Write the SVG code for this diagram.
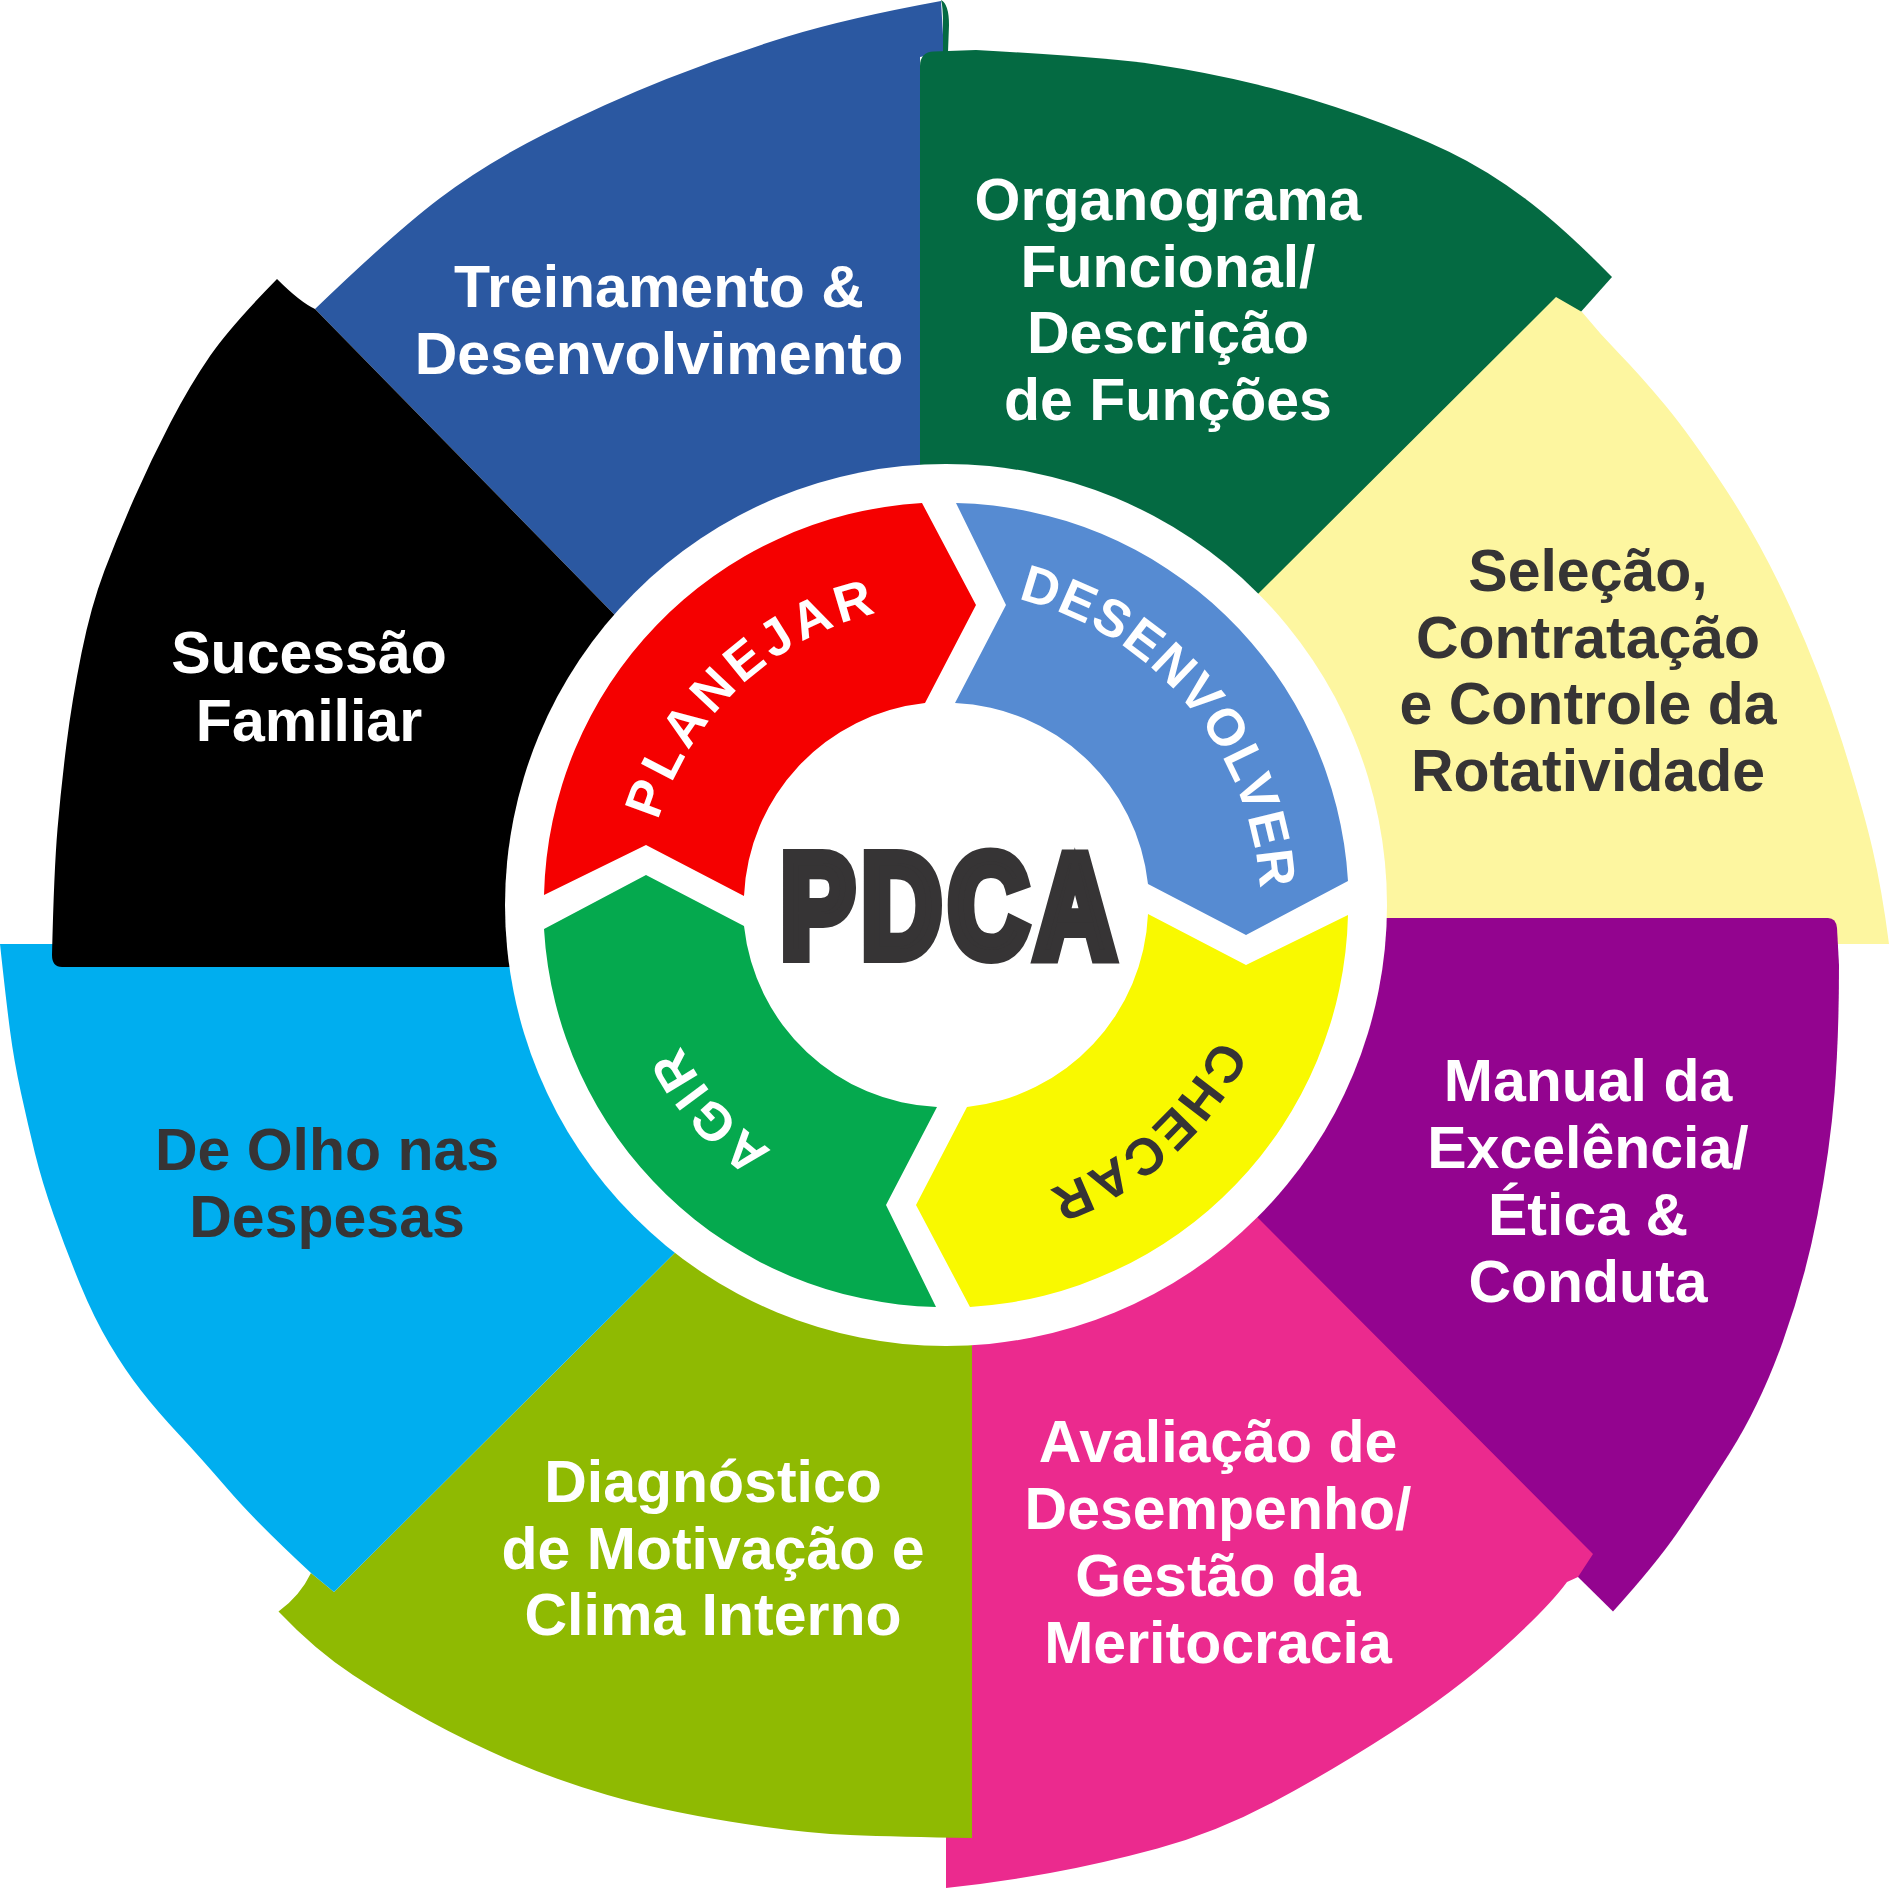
<svg xmlns="http://www.w3.org/2000/svg" width="1891" height="1890" viewBox="0 0 1891 1890">
<style>
.lbl{font-family:'Liberation Sans',Arial,Helvetica,sans-serif;font-weight:bold;font-size:59px;text-anchor:middle}
.w{fill:#ffffff}
.d{fill:#363435}
.ring{font-family:'Liberation Sans',Arial,Helvetica,sans-serif;font-weight:bold;font-size:52px;text-anchor:middle}
</style>
<defs>
<path id="arrowShape" d="M956,503 A402,402 0 0 1 1348,881 L1246,935 L1148,884 A203,203 0 0 0 955,703 L1006,605 Z"/>
<path id="tpPlan" d="M726.9,1110 A300,300 0 0 1 1165.1,700"/>
<path id="tpDes" d="M743.3,661.3 A317,317 0 0 1 1148.7,1148.7"/>
<path id="tpChe" d="M1173,702.8 A304,304 0 0 1 719,1107.2"/>
<path id="tpAgi" d="M1144.4,1134 A303,303 0 0 1 747.6,676"/>
</defs>
<rect width="1891" height="1890" fill="#ffffff"/>

<g id="petal-treinamento">
<path fill="#2B58A1" d="M315,309 Q394,233 439.5,198.5 Q485,164 545.5,133.5 Q606,103 666.5,79 Q727,55 787.5,36.5 Q848,18 941,1 L944,52 L920,57 L920,800 L700,702 Z"/>
<text class="lbl w" x="659" y="307">Treinamento &amp;</text>
<text class="lbl w" x="659" y="374">Desenvolvimento</text>
</g>

<g id="petal-organograma">
<path fill="#046A42" d="M941,0 Q949,4 949,25 L948,52 L943,52 L943,25 Q943,6 941,0 Z"/>
<path fill="#046A42" d="M920,905 L920,66 Q920,52 934,51.5 L976,50 Q1104,57 1155,64.4 Q1206,72 1257,84.4 Q1308,97 1359,115 Q1410,133 1448.5,151.5 Q1487,170 1525,198.5 Q1563,227 1612,277 L1579,314 L946,905 Z"/>
<text class="lbl w" x="1168" y="220">Organograma</text>
<text class="lbl w" x="1168" y="286.5">Funcional/</text>
<text class="lbl w" x="1168" y="353">Descrição</text>
<text class="lbl w" x="1168" y="419.5">de Funções</text>
</g>

<g id="petal-selecao">
<path fill="#FDF6A0" d="M946,905 L1556,297 L1582,312 Q1600,334 1620,354.5 Q1640,375 1665,405 Q1690,435 1725.5,489 Q1761,543 1791,609 Q1821,675 1842,741.5 Q1863,808 1872.5,849 Q1882,890 1889,944 L946,944 Z"/>
<text class="lbl d" x="1588" y="591">Seleção,</text>
<text class="lbl d" x="1588" y="657.5">Contratação</text>
<text class="lbl d" x="1588" y="724">e Controle da</text>
<text class="lbl d" x="1588" y="790.5">Rotatividade</text>
</g>

<g id="petal-manual">
<path fill="#93048F" d="M946,918 L1828,918 Q1836,918 1837,928 L1839,965 Q1839,1037 1834.5,1093.5 Q1830,1150 1817.5,1215 Q1805,1280 1782.5,1342.5 Q1760,1405 1730,1452.5 Q1700,1500 1677.5,1532.5 Q1655,1565 1613,1611.5 L1578,1577 Z"/>
<text class="lbl w" x="1588" y="1101">Manual da</text>
<text class="lbl w" x="1588" y="1168">Excelência/</text>
<text class="lbl w" x="1588" y="1235">Ética &amp;</text>
<text class="lbl w" x="1588" y="1302">Conduta</text>
</g>

<g id="petal-avaliacao">
<path fill="#EB2A8E" d="M946,905 L1593,1554 L1578,1577 L1567,1582 Q1548,1608 1501,1650 Q1454,1692 1392,1732 Q1330,1772 1272.5,1802.5 Q1215,1833 1157.5,1848.5 Q1100,1864 1050,1873 Q1000,1882 946,1888 L946,1834 L972,1834 L972,905 Z"/>
<text class="lbl w" x="1218" y="1462">Avaliação de</text>
<text class="lbl w" x="1218" y="1529">Desempenho/</text>
<text class="lbl w" x="1218" y="1596">Gestão da</text>
<text class="lbl w" x="1218" y="1663">Meritocracia</text>
</g>

<g id="petal-diagnostico">
<path fill="#8FBA02" d="M972,905 L972,1838 Q900,1837 850,1835 Q800,1833 729.5,1821.5 Q659,1810 607.5,1795 Q556,1780 512,1761 Q468,1742 429.5,1721 Q391,1700 353,1675 Q315,1650 278.5,1611.5 Q300,1596 311,1573 L334,1592 L946,983 L946,905 Z"/>
<text class="lbl w" x="713" y="1502">Diagnóstico</text>
<text class="lbl w" x="713" y="1569">de Motivação e</text>
<text class="lbl w" x="713" y="1635">Clima Interno</text>
</g>

<g id="petal-despesas">
<path fill="#00AEEF" d="M0,944 L700,944 L946,983 L334,1592 L311,1573 Q257,1523 228.5,1490 Q200,1457 178.5,1434 Q157,1411 141,1390.5 Q125,1370 109.5,1344 Q94,1318 80,1284 Q66,1250 54,1216 Q42,1182 35,1153.5 Q28,1125 21,1093 Q14,1061 10,1030.5 Q6,1000 0,944 Z"/>
<text class="lbl d" x="327" y="1170">De Olho nas</text>
<text class="lbl d" x="327" y="1237">Despesas</text>
</g>

<g id="petal-sucessao">
<path fill="#000000" d="M277,279 Q300,302 315,309 L700,702 L700,967 L62,967 Q52,967 52,955 Q54,870 57.5,829 Q61,788 66.5,744 Q72,700 81.5,653 Q91,606 104.5,570.5 Q118,535 134.5,497.5 Q151,460 170.5,422.5 Q190,385 210,356 Q230,327 277,279 Z"/>
<text class="lbl w" x="309" y="673">Sucessão</text>
<text class="lbl w" x="309" y="741">Familiar</text>
</g>

<circle id="ring-base" cx="946" cy="905" r="441" fill="#ffffff"/>

<g id="arrow-planejar">
<use href="#arrowShape" fill="#F50000" transform="rotate(270 946 905)"/>
<text class="ring w" letter-spacing="5"><textPath href="#tpPlan" startOffset="50%">PLANEJAR</textPath></text>
</g>
<g id="arrow-desenvolver">
<use href="#arrowShape" fill="#568BD2"/>
<text class="ring w" letter-spacing="1.5"><textPath href="#tpDes" startOffset="50%">DESENVOLVER</textPath></text>
</g>
<g id="arrow-checar">
<use href="#arrowShape" fill="#F9F900" transform="rotate(90 946 905)"/>
<text class="ring d" letter-spacing="2"><textPath href="#tpChe" startOffset="50%">CHECAR</textPath></text>
</g>
<g id="arrow-agir">
<use href="#arrowShape" fill="#05A94E" transform="rotate(180 946 905)"/>
<text class="ring w" letter-spacing="3.5"><textPath href="#tpAgi" startOffset="50%">AGIR</textPath></text>
</g>

<g id="center-pdca">
<text transform="translate(951.6,956) scale(0.76,1)" x="0" y="0" font-family="'Liberation Sans',Arial,Helvetica,sans-serif" font-weight="bold" font-size="145" letter-spacing="9.5" text-anchor="middle" fill="#363435" stroke="#363435" stroke-width="14" stroke-linejoin="miter">PDCA</text>
</g>
</svg>
